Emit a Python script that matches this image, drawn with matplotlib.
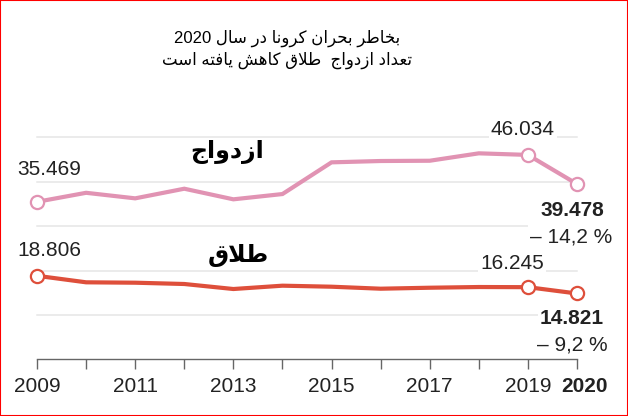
import re
import matplotlib
matplotlib.use('Agg')
import matplotlib.pyplot as plt
from matplotlib.patches import Rectangle
from matplotlib.transforms import ScaledTranslation

# ----- Data -----
years = list(range(2009, 2021))
marriage = [35469, 37500, 36250, 38420, 36030, 37220, 44360, 44660, 44720,
            46390, 46034, 39478]
divorce = [18806, 17340, 17250, 16960, 15830, 16580, 16350, 15900, 16120,
           16280, 16245, 14821]
tick_labels = ['2009', '', '2011', '', '2013', '', '2015', '', '2017', '',
               '2019', '2020']
title_lines = ['بخاطر بحران کرونا در سال 2020',
               'تعداد ازدواج  طلاق کاهش یافته است']
label_marriage = 'ازدواج'
label_divorce = 'طلاق'
change_marriage = '\u2013 14,2 %'
change_divorce = '\u2013 9,2 %'

MARRIAGE_COLOR = '#e193b3'
DIVORCE_COLOR = '#de4f3b'
NUM_FONT = ['Liberation Sans', 'DejaVu Sans']
FA_FONT = ['DejaVu Sans']

# ----- tiny Persian shaper (matplotlib does no Arabic shaping / bidi) -----
# isolated, final, initial, medial
FORMS = {
    'ا': ('\uFE8D', '\uFE8E', None, None),
    'ب': ('\uFE8F', '\uFE90', '\uFE91', '\uFE92'),
    'ت': ('\uFE95', '\uFE96', '\uFE97', '\uFE98'),
    'ج': ('\uFE9D', '\uFE9E', '\uFE9F', '\uFEA0'),
    'ح': ('\uFEA1', '\uFEA2', '\uFEA3', '\uFEA4'),
    'خ': ('\uFEA5', '\uFEA6', '\uFEA7', '\uFEA8'),
    'د': ('\uFEA9', '\uFEAA', None, None),
    'ر': ('\uFEAD', '\uFEAE', None, None),
    'ز': ('\uFEAF', '\uFEB0', None, None),
    'س': ('\uFEB1', '\uFEB2', '\uFEB3', '\uFEB4'),
    'ش': ('\uFEB5', '\uFEB6', '\uFEB7', '\uFEB8'),
    'ط': ('\uFEC1', '\uFEC2', '\uFEC3', '\uFEC4'),
    'ع': ('\uFEC9', '\uFECA', '\uFECB', '\uFECC'),
    'ف': ('\uFED1', '\uFED2', '\uFED3', '\uFED4'),
    'ق': ('\uFED5', '\uFED6', '\uFED7', '\uFED8'),
    'ل': ('\uFEDD', '\uFEDE', '\uFEDF', '\uFEE0'),
    'ن': ('\uFEE5', '\uFEE6', '\uFEE7', '\uFEE8'),
    'ه': ('\uFEE9', '\uFEEA', '\uFEEB', '\uFEEC'),
    'و': ('\uFEED', '\uFEEE', None, None),
    'ک': ('\uFB8E', '\uFB8F', '\uFB90', '\uFB91'),
    'ی': ('\uFBFC', '\uFBFD', '\uFBFE', '\uFBFF'),
}


def joins_next(c):
    return c in FORMS and FORMS[c][2] is not None


def fa(text):
    res = []
    i, n = 0, len(text)
    while i < n:
        c = text[i]
        if c not in FORMS:
            res.append(c)
            i += 1
            continue
        prev_joins = i > 0 and joins_next(text[i - 1])
        if c == 'ل' and i + 1 < n and text[i + 1] == 'ا':
            res.append('\uFEFC' if prev_joins else '\uFEFB')
            i += 2
            continue
        next_joins = joins_next(c) and i + 1 < n and text[i + 1] in FORMS
        iso, fin, ini, med = FORMS[c]
        if prev_joins and next_joins:
            res.append(med)
        elif prev_joins:
            res.append(fin)
        elif next_joins:
            res.append(ini)
        else:
            res.append(iso)
        i += 1
    vis = ''.join(res)[::-1]
    return re.sub(r'[0-9]+', lambda m: m.group(0)[::-1], vis)


# ----- Figure -----
fig = plt.figure(figsize=(6.28, 4.16), dpi=100)
ax = fig.add_axes([37 / 628, (416 - 359.3) / 416, 540 / 628, 222 / 416])
ax.set_xlim(2009, 2020)
ax.set_ylim(0, 50000)

for v in range(10000, 50001, 10000):
    ax.plot([2009, 2020], [v, v], color='#e6e6e6', lw=1.1, zorder=1,
            clip_on=False)

ax.plot(years, marriage, color=MARRIAGE_COLOR, lw=3, zorder=3,
        solid_joinstyle='miter', clip_on=False)
ax.plot(years, divorce, color=DIVORCE_COLOR, lw=3, zorder=3,
        solid_joinstyle='miter', clip_on=False)
for series, col in [(marriage, MARRIAGE_COLOR), (divorce, DIVORCE_COLOR)]:
    idx = [0, len(years) - 2, len(years) - 1]
    ax.plot([years[i] for i in idx], [series[i] for i in idx], 'o',
            ms=9.5, mfc='white', mec=col, mew=1.6, zorder=4, clip_on=False)

box = dict(facecolor='white', edgecolor='none', pad=1.5)


def num(txt, x, y, dx, dy, ha='center', bold=False):
    ax.annotate(txt, xy=(x, y), xytext=(dx, dy), textcoords='offset pixels',
                ha=ha, va='baseline', fontsize=15, color='#222222',
                family=NUM_FONT, fontweight='bold' if bold else 'normal',
                bbox=box, zorder=5, annotation_clip=False)


fmt = lambda v: f'{v:,}'.replace(',', '.')
num(fmt(marriage[0]), years[0], marriage[0], 12, 27)
num(fmt(marriage[-2]), years[-2], marriage[-2], -5, 20)
num(fmt(divorce[0]), years[0], divorce[0], 12, 20)
num(fmt(divorce[-2]), years[-2], divorce[-2], -16, 18)
num(fmt(marriage[-1]), years[-1], marriage[-1], 27, -32, ha='right', bold=True)
num(change_marriage, years[-1], marriage[-1], 35, -58, ha='right')
num(fmt(divorce[-1]), years[-1], divorce[-1], 27, -31, ha='right', bold=True)
num(change_divorce, years[-1], divorce[-1], 31, -57, ha='right')

ax.text(2012.87, 46700, fa(label_marriage), ha='center', va='center',
        fontsize=17, fontweight='bold', family=FA_FONT, color='black',
        zorder=5)
ax.text(2013.11, 23500, fa(label_divorce), ha='center', va='center',
        fontsize=17, fontweight='bold', family=FA_FONT, color='black',
        bbox=box, zorder=5)

fig.text(0.457, 1 - 38 / 416, fa(title_lines[0]), ha='center', va='center',
         fontsize=12, family=NUM_FONT)
fig.text(0.457, 1 - 60 / 416, fa(title_lines[1]), ha='center', va='center',
         fontsize=12, family=NUM_FONT)

# axes styling
for s in ['top', 'right', 'left']:
    ax.spines[s].set_visible(False)
ax.spines['bottom'].set_color('#666666')
ax.spines['bottom'].set_linewidth(1.0)
ax.set_yticks([])
ax.set_xticks(years)
ax.set_xticklabels(tick_labels, fontsize=15, color='#222222', family=NUM_FONT)
ax.tick_params(axis='x', length=7.5, width=1.0, color='#666666', pad=5)
last = ax.get_xticklabels()[-1]
last.set_fontweight('bold')
last.set_transform(last.get_transform() +
                   ScaledTranslation(8 / 100, 0, fig.dpi_scale_trans))
ax.patch.set_visible(False)

fig.patches.append(Rectangle((0, 0), 1, 1, transform=fig.transFigure,
                             fill=False, edgecolor='red', lw=1.5))

fig.savefig('out.png', dpi=100)
